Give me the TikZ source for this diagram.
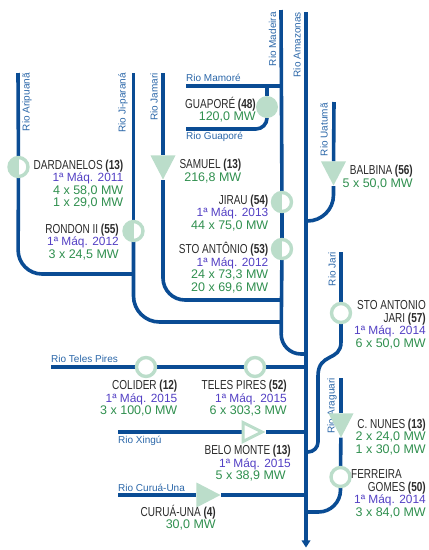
\documentclass[tikz,border=0pt]{standalone}
\usepackage{fontspec}
\usetikzlibrary{shapes.geometric, backgrounds}
\setmainfont{Liberation Sans}
\newfontfamily\namefont[FakeStretch=0.77]{Liberation Sans}
\definecolor{river-blue}{HTML}{0A4C94}
\definecolor{label-blue}{HTML}{2A66A8}
\definecolor{plant-green}{HTML}{BBDDCA}
\definecolor{unit-violet}{HTML}{5340C4}
\definecolor{power-green}{HTML}{2F8F4E}
\definecolor{name-dark}{HTML}{2A2A2A}
\newcommand{\plantname}[2]{{\color{name-dark}\namefont\fontsize{13}{12.5}\selectfont #1\textbf{#2}}}
\newcommand{\firstunit}[1]{{\color{unit-violet}\fontsize{11.9}{12.5}\selectfont 1ª Máq. #1}}
\newcommand{\plantpower}[1]{{\color{power-green}#1 MW}}
\tikzset{
  river/.style={draw=river-blue, line width=3.6pt},
  riverarrow/.style={fill=river-blue, inner sep=0pt, minimum width=9pt, minimum height=7pt,
        isosceles triangle, isosceles triangle stretches, shape border rotate=-90},
  riverlabel/.style={text=label-blue, font=\fontsize{10}{10}\selectfont, inner sep=0pt},
  plantlabel/.style={anchor=north east, align=right, inner sep=0pt,
        font=\fontsize{12.5}{12.5}\selectfont},
  ringplant/.style={circle, draw=plant-green, line width=3.4pt, fill=white, minimum size=19pt, inner sep=0pt},
  halfplant/.style={ringplant, path picture={\fill[plant-green] (path picture bounding box.north west)
        rectangle (path picture bounding box.south);}},
  fullplant/.style={circle, fill=plant-green, minimum size=22pt, inner sep=0pt},
  dropplant/.style={isosceles triangle, isosceles triangle stretches, fill=plant-green, inner sep=0pt,
        minimum width=25pt, minimum height=24pt},
  hollowplant/.style={dropplant, draw=plant-green, line width=3pt, fill=white,
        minimum width=19pt, minimum height=19pt}
}
\begin{document}
\begin{tikzpicture}[x=1pt, y=-1pt]
    \useasboundingbox (0,0) rectangle (429,550);
    \coordinate (aripuana) at (18,73);
    \coordinate (jiparana) at (133.5,73);
    \coordinate (jamari) at (163,73);
    \coordinate (madeira) at (281,10);
    \coordinate (amazonas) at (306,12);
    \coordinate (amazonasend) at (306,543);
    \coordinate (mamore) at (186,86);
    \coordinate (madeiraM) at (281,86);
    \coordinate (guapore) at (186,129);
    \coordinate (uatuma) at (334,102);
    \coordinate (jari) at (341,252);
    \coordinate (araguari) at (341,378);
    \coordinate (telespires) at (51,367);
    \coordinate (xingu) at (118,432);
    \coordinate (curuauna) at (118,495);
    \coordinate (junctionA) at (134,274);
    \coordinate (junctionB) at (281,322);
    \coordinate (junctionC) at (281,300);
    \coordinate (mouthM) at (306,354);
    \coordinate (mouthT) at (306,367);
    \coordinate (mouthB) at (306,221);
    \coordinate (mouthJ) at (306,452);
    \coordinate (mouthX) at (306,432);
    \coordinate (mouthF) at (306,512);
    \coordinate (mouthC) at (306,495);
    \coordinate (jaribendA) at (341,342);
    \coordinate (jaribendB) at (318,376);

    \node[halfplant] (DARDANELOSMK) at (18.5,167) {};
    \node[halfplant] (RONDONMK) at (133.5,231) {};
    \node[dropplant, shape border rotate=-90, anchor=apex] (SAMUELMK) at (163,180) {};
    \node[fullplant] (GUAPOREMK) at (267,107) {};
    \node[halfplant] (JIRAUMK) at (282,202) {};
    \node[halfplant] (STOANTONIOMK) at (282,249) {};
    \node[dropplant, shape border rotate=-90, anchor=apex] (BALBINAMK) at (333.5,186) {};
    \node[ringplant] (JARIMK) at (341,313) {};
    \node[dropplant, shape border rotate=-90, anchor=apex] (NUNESMK) at (341,438) {};
    \node[ringplant] (FERREIRAMK) at (340.5,477) {};
    \node[ringplant] (COLIDERMK) at (146,367) {};
    \node[ringplant] (TELESMK) at (255,367) {};
    \node[hollowplant, anchor=apex] (BELOMK) at (266,432) {};
    \node[dropplant, anchor=apex] (CURUAMK) at (221,495) {};

    \begin{scope}[on background layer]
      \draw[river] (amazonas) -- (amazonasend);
      \draw[river] (madeira) -- (JIRAUMK);
      \draw[river] (JIRAUMK) -- (STOANTONIOMK);
      \draw[river, rounded corners=20pt] (STOANTONIOMK) -- (281,354) -- (mouthM);
      \draw[river] (mamore) -- (madeiraM);
      \draw[river] (267,86) -- (GUAPOREMK);
      \draw[river, rounded corners=11pt] (guapore) -- (267,129) -- (GUAPOREMK);
      \draw[river] (aripuana) -- (DARDANELOSMK);
      \draw[river, rounded corners=24pt] (DARDANELOSMK) -- (18,274) -- (junctionA);
      \draw[river] (jiparana) -- (RONDONMK);
      \draw[river, rounded corners=26pt] (RONDONMK) -- (133.5,322) -- (junctionB);
      \draw[river] (jamari) -- (SAMUELMK);
      \draw[river, rounded corners=22pt] (SAMUELMK) -- (163,300) -- (junctionC);
      \draw[river] (uatuma) -- (BALBINAMK);
      \draw[river, rounded corners=26pt] (BALBINAMK) -- (333.5,221) -- (mouthB);
      \draw[river] (jari) -- (JARIMK);
      \draw[river] (JARIMK) -- (jaribendA);
      \draw[river] (jaribendA) .. controls (341,362) and (318,352) .. (jaribendB);
      \draw[river, rounded corners=10pt] (jaribendB) -- (318,452) -- (mouthJ);
      \draw[river] (araguari) -- (NUNESMK);
      \draw[river] (NUNESMK) -- (FERREIRAMK);
      \draw[river, rounded corners=22pt] (FERREIRAMK) -- (340.5,512) -- (mouthF);
      \draw[river] (telespires) -- (COLIDERMK);
      \draw[river] (COLIDERMK) -- (TELESMK);
      \draw[river] (TELESMK) -- (mouthT);
      \draw[river] (xingu) -- (BELOMK);
      \draw[river] (BELOMK) -- (mouthX);
      \draw[river] (curuauna) -- (CURUAMK);
      \draw[river] (CURUAMK) -- (mouthC);
    \end{scope}
    \node[riverarrow, anchor=apex] (SEA) at (306,548) {};

    \node[riverlabel, rotate=90, anchor=east] (LARIPUANA) at (27,73) {Rio Aripuanã};
    \node[riverlabel, rotate=90, anchor=east] (LJIPARANA) at (123,73) {Rio Ji-paraná};
    \node[riverlabel, rotate=90, anchor=east] (LJAMARI) at (154,73) {Rio Jamari};
    \node[riverlabel, rotate=90, anchor=east] (LMADEIRA) at (272.5,12) {Rio Madeira};
    \node[riverlabel, rotate=90, anchor=east] (LAMAZONAS) at (297,12) {Rio Amazonas};
    \node[riverlabel, rotate=90, anchor=east] (LUATUMA) at (324,103) {Rio Uatumã};
    \node[riverlabel, rotate=90, anchor=east] (LJARI) at (332,252) {Rio Jari};
    \begin{scope}[on background layer]
      \node[riverlabel, rotate=90, anchor=east] (LARAGUARI) at (332,378) {Rio Araguari};
    \end{scope}
    \node[riverlabel, anchor=west] (LMAMORE) at (186,78) {Rio Mamoré};
    \node[riverlabel, anchor=west] (LGUAPORE) at (186,137) {Rio Guaporé};
    \node[riverlabel, anchor=west] (LTELES) at (51,359) {Rio Teles Pires};
    \node[riverlabel, anchor=west] (LXINGU) at (118,441) {Rio Xingú};
    \node[riverlabel, anchor=west] (LCURUA) at (118,488) {Rio Curuá-Una};

    \node[plantlabel] (DARDANELOS) at (123.5,159.5) {\plantname{DARDANELOS }{(13)}\\\firstunit{2011}\\\plantpower{4 x 58,0}\\\plantpower{1 x 29,0}};
    \node[plantlabel] (RONDON) at (119,223.5) {\plantname{RONDON II }{(55)}\\\firstunit{2012}\\\plantpower{3 x 24,5}};
    \node[plantlabel] (GUAPORE) at (256,97) {\plantname{GUAPORÉ }{(48)}\\\plantpower{120,0}};
    \node[plantlabel] (SAMUEL) at (241.5,159) {\plantname{SAMUEL }{(13)}\\\plantpower{216,8}};
    \node[plantlabel] (JIRAU) at (268.5,194.5) {\plantname{JIRAU }{(54)}\\\firstunit{2013}\\\plantpower{44 x 75,0}};
    \node[plantlabel] (STOANTONIO) at (268.5,242) {\plantname{STO ANTÔNIO }{(53)}\\\firstunit{2012}\\\plantpower{24 x 73,3}\\\plantpower{20 x 69,6}};
    \node[plantlabel] (BALBINA) at (413,165) {\plantname{BALBINA }{(56)}\\\plantpower{5 x 50,0}};
    \node[plantlabel] (JARI) at (426,300.5) {\plantname{STO ANTONIO}{}\\\plantname{JARI }{(57)}\\\firstunit{2014}\\\plantpower{6 x 50,0}};
    \node[plantlabel] (COLIDER) at (177.5,380) {\plantname{COLIDER }{(12)}\\\firstunit{2015}\\\plantpower{3 x 100,0}};
    \node[plantlabel] (TELES) at (287,380) {\plantname{TELES PIRES }{(52)}\\\firstunit{2015}\\\plantpower{6 x 303,3}};
    \node[plantlabel] (BELO) at (291,445) {\plantname{BELO MONTE }{(13)}\\\firstunit{2015}\hspace*{5pt}\\\plantpower{5 x 38,9}\hspace*{5pt}};
    \node[plantlabel] (CURUA) at (216,505) {\plantname{CURUÁ-UNA }{(4)}\\\plantpower{30,0}};
    \node[plantlabel] (NUNES) at (426,418.5) {\plantname{C. NUNES }{(13)}\\\plantpower{2 x 24,0}\\\plantpower{1 x 30,0}};
    \node[plantlabel] (FERREIRA) at (426,469.5) {\plantname{FERREIRA}{}\hspace*{24pt}\\\plantname{GOMES }{(50)}\\\firstunit{2014}\\\plantpower{3 x 84,0}};
  \end{tikzpicture}
\end{document}
